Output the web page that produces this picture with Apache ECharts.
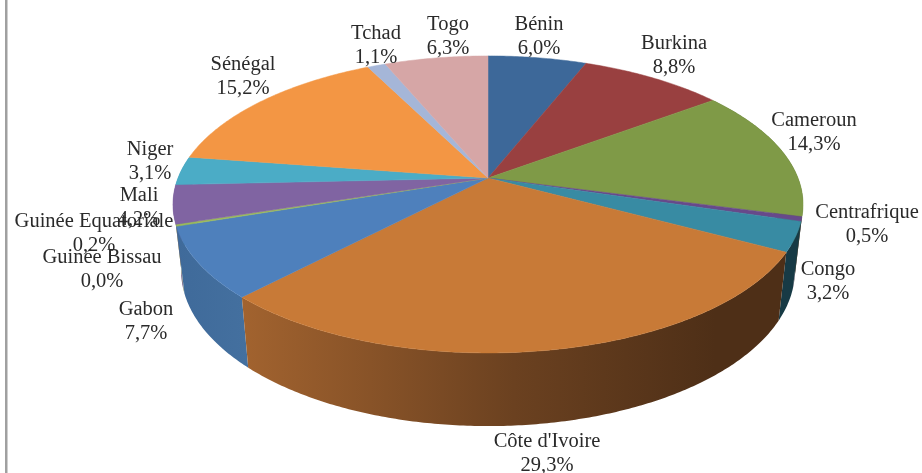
<!DOCTYPE html>
<html>
<head>
<meta charset="utf-8">
<style>
 html, body { margin: 0; padding: 0; background: #fff; }
 #main { width: 922px; height: 473px; }
</style>
<script src="https://cdn.jsdelivr.net/npm/echarts@6/dist/echarts.min.js"></script>
</head>
<body>
<div id="main"></div>
<script>
const countries = ['Bénin', 'Burkina', 'Cameroun', 'Centrafrique', 'Congo', "Côte d'Ivoire", 'Gabon', 'Guinée Bissau', 'Guinée Equatoriale', 'Mali', 'Niger', 'Sénégal', 'Tchad', 'Togo']
const shares = [6.0, 8.8, 14.3, 0.5, 3.2, 29.3, 7.7, 0.0, 0.2, 4.2, 3.1, 15.2, 1.1, 6.3]
const shareLabels = ['6,0%', '8,8%', '14,3%', '0,5%', '3,2%', '29,3%', '7,7%', '0,0%', '0,2%', '4,2%', '3,1%', '15,2%', '1,1%', '6,3%']

const topColors = ['#3d6899', '#994040', '#7f9a47', '#67498a', '#388ba3', '#c87a37', '#4e80bc', '#c0504d', '#9bbb59', '#8064a2', '#4bacc6', '#f39644', '#a5b6d8', '#d6a6a6']
const wallColors = [
 ['#2a4869', '#2a4869'], ['#6b2d2d', '#6b2d2d'], ['#4e5f2c', '#4e5f2c'], ['#2d1f3b', '#2d1f3b'], ['#173a45', '#173a45'],
 ['#a2632f', '#6b4120', '#4e2f17', '#4e2f17'], ['#3f6a9a', '#44709f'], ['#86403e', '#86403e'], ['#7c9547', '#7c9547'],
 ['#6a5387', '#6a5387'], ['#3f90a6', '#3f90a6'], ['#c97a39', '#c97a39'], ['#8a98b4', '#8a98b4'], ['#b28a8a', '#b28a8a']
]
// centre of each two line label, in pixels
const labelAnchors = [[539, 37], [674, 56], [814, 133], [867, 225], [828, 282], [547, 454], [146, 322], [102, 270], [94, 234], [139, 208], [150, 162], [243, 77], [376, 46], [448, 37]]

// tilted disc: the top rim and the bottom rim have their own projection
const cx = 488
const tilt = -0.178
const topRim = { scaleX: 310, scaleY: 143.8, y0: 178 }
const bottomRim = { scaleX: 302, scaleY: 150.5, y0: 243 }
const total = shares.reduce((a, b) => a + b, 0)

const project = (rim, angle) => {
 const u = Math.sin(angle)
 const v = -Math.cos(angle)
 const d = 1 + tilt * v
 return [cx + rim.scaleX * u / d, rim.y0 + rim.scaleY * v / d]
}

const sliceAngles = (index, value) => {
 let before = 0
 for (let i = 0; i < index; i++) before += shares[i]
 const start = before / total * Math.PI * 2
 return [start, start + value / total * Math.PI * 2]
}

const rimPoints = (rim, start, end) => {
 const steps = Math.max(2, Math.ceil((end - start) / 0.01))
 const pts = []
 for (let i = 0; i <= steps; i++) pts.push(project(rim, start + (end - start) * i / steps))
 return pts
}

const wallFill = (colors) => {
 if (colors.length === 2 && colors[0] === colors[1]) return colors[0]
 const stops = colors.length === 4 ? [0, 0.5, 0.87, 1] : [0, 1]
 return new echarts.graphic.LinearGradient(0, 0, 1, 0, colors.map((color, i) => ({ offset: stops[i], color })))
}

const renderWall = (params, api) => {
 const value = api.value(0)
 const [start, end] = sliceAngles(params.dataIndex, value)
 const mid = (start + end) / 2
 if (value === 0 || (-Math.cos(start) < 0 && -Math.cos(end) < 0)) return null
 const points = rimPoints(topRim, start, end).concat(rimPoints(bottomRim, start, end).reverse())
 return {
  type: 'polygon',
  z2: Math.round(-Math.cos(mid) * 100) + 100,
  shape: { points },
  style: { fill: wallFill(wallColors[params.dataIndex]) }
 }
}

const renderTop = (params, api) => {
 const value = api.value(0)
 if (value === 0) return null
 const [start, end] = sliceAngles(params.dataIndex, value)
 const points = [[cx, topRim.y0]].concat(rimPoints(topRim, start, end))
 const fill = topColors[params.dataIndex]
 return {
  type: 'polygon',
  shape: { points },
  style: { fill, stroke: fill, lineWidth: 0.5 }
 }
}

const renderLabel = (params) => {
 const i = params.dataIndex
 return {
  type: 'text',
  style: {
   x: labelAnchors[i][0],
   y: labelAnchors[i][1],
   text: countries[i] + '\n' + shareLabels[i],
   font: '20.5px "Liberation Serif"',
   lineHeight: 24,
   fill: '#2a2a2a',
   align: 'center',
   verticalAlign: 'middle'
  }
 }
}

const chart = echarts.init(document.getElementById('main'))
chart.setOption({
 animation: false,
 backgroundColor: '#ffffff',
 graphic: [{
  type: 'rect',
  shape: { x: 5, y: 0, width: 2.5, height: 473 },
  style: { fill: '#a0a0a0' }
 }],
 series: [
  { type: 'custom', coordinateSystem: 'none', z: 2, data: shares, renderItem: renderWall, silent: true },
  { type: 'custom', coordinateSystem: 'none', z: 3, data: shares, renderItem: renderTop, silent: true },
  { type: 'custom', coordinateSystem: 'none', z: 4, data: shares, renderItem: renderLabel, silent: true }
 ]
})
</script>
</body>
</html>
